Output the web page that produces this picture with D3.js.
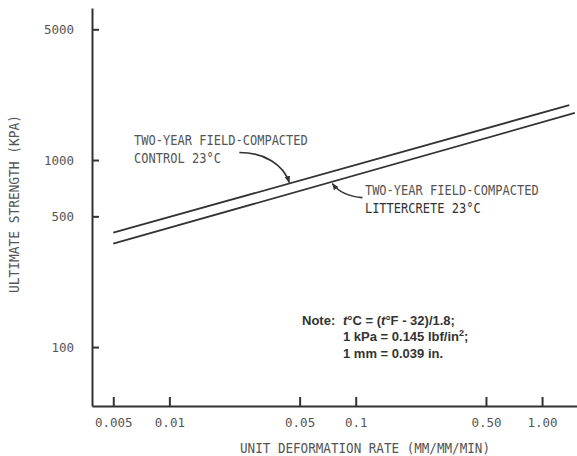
<!DOCTYPE html>
<html>
<head>
<meta charset="utf-8">
<script src="https://cdn.jsdelivr.net/npm/d3@7"></script>
<style>
  html, body { margin: 0; padding: 0; background: #fff; }
  #chart { width: 577px; height: 456px; }
  .mono { font-family: "DejaVu Sans Mono", monospace; fill: #555; }
  .note { font-family: "Liberation Sans", Arial, sans-serif; font-weight: bold; fill: #333; font-size: 13px; }
</style>
</head>
<body>
<div id="chart"></div>
<script>
// Ultimate strength vs unit deformation rate (log-log)
const xTicks = [0.005, 0.01, 0.05, 0.1, 0.5, 1];
const xTickLabels = ["0.005", "0.01", "0.05", "0.1", "0.50", "1.00"];
const yTicks = [100, 500, 1000, 5000];
const yTickLabels = ["100", "500", "1000", "5000"];

const controlRate = [0.005, 1.4];
const controlStrength = [409, 1965];
const littercreteRate = [0.005, 1.5];
const littercreteStrength = [357, 1785];

(() => {
    const W = 577, H = 456;
    const m = { left: 92, right: 0, top: 8, bottom: 50 };

    const svg = d3.select("#chart").append("svg").attr("width", W).attr("height", H);

    const x = d3.scaleLog().domain([0.003844, 1.54]).range([m.left, W - m.right]);
    const y = d3.scaleLog().domain([48.4, 6500]).range([H - m.bottom, m.top]);

    // axes
    const xAxis = d3.axisBottom(x).tickValues(xTicks)
        .tickFormat((d, i) => xTickLabels[i])
        .tickSizeInner(-9).tickSizeOuter(0).tickPadding(12);
    const yAxis = d3.axisLeft(y).tickValues(yTicks)
        .tickFormat((d, i) => yTickLabels[i])
        .tickSizeInner(-7).tickSizeOuter(0).tickPadding(18);

    const styleAxis = g => {
        g.select(".domain").attr("stroke", "#333").attr("stroke-width", 2);
        g.selectAll(".tick line").attr("stroke", "#333").attr("stroke-width", 2);
        g.selectAll(".tick text").attr("class", "mono").attr("font-size", 12.5).attr("fill", "#555");
    };

    svg.append("g").attr("transform", `translate(0,${H - m.bottom})`).call(xAxis).call(styleAxis);
    svg.append("g").attr("transform", `translate(${m.left},0)`).call(yAxis).call(styleAxis);

    // axis titles (tall, condensed typewriter look)
    svg.append("text").attr("class", "mono").attr("font-size", 14)
        .attr("transform", "translate(365,453) scale(0.9,1)").attr("text-anchor", "middle")
        .text("UNIT DEFORMATION RATE (MM/MM/MIN)");
    svg.append("text").attr("class", "mono").attr("font-size", 14)
        .attr("transform", "translate(19,204) rotate(-90) scale(0.92,1)").attr("text-anchor", "middle")
        .text("ULTIMATE STRENGTH (KPA)");

    // lines
    const series = [
        { name: "control", rate: controlRate, strength: controlStrength },
        { name: "littercrete", rate: littercreteRate, strength: littercreteStrength }
    ];
    const line = d3.line().x(d => x(d[0])).y(d => y(d[1]));
    svg.selectAll("path.series").data(series).join("path")
        .attr("class", "series")
        .attr("fill", "none").attr("stroke", "#333").attr("stroke-width", 1.8)
        .attr("d", s => line(d3.zip(s.rate, s.strength)));

    // interpolate a series in log space
    const at = (s, xv) => {
        const t = (Math.log(xv) - Math.log(s.rate[0])) / (Math.log(s.rate[1]) - Math.log(s.rate[0]));
        return Math.exp(Math.log(s.strength[0]) + t * (Math.log(s.strength[1]) - Math.log(s.strength[0])));
    };

    // arrowhead
    svg.append("defs").append("marker")
        .attr("id", "ah").attr("viewBox", "0 0 10 10").attr("refX", 9).attr("refY", 5)
        .attr("markerWidth", 7).attr("markerHeight", 7).attr("orient", "auto")
        .attr("markerUnits", "userSpaceOnUse")
        .append("path").attr("d", "M0,1L10,5L0,9Z").attr("fill", "#333");

    // labels
    const label = (px, py, lines, darkSecond) => {
        const t = svg.append("text").attr("class", "mono").attr("font-size", 14)
            .attr("transform", `translate(${px},${py}) scale(0.86,1)`);
        lines.forEach((l, i) => {
            t.append("tspan").attr("x", 0).attr("y", i * 18).text(l)
                .attr("fill", i === 1 && darkSecond ? "#333" : "#555");
        });
    };
    label(x(0.00646), 145, ["TWO-YEAR FIELD-COMPACTED", "CONTROL 23°C"], false);
    label(x(0.112), 195, ["TWO-YEAR FIELD-COMPACTED", "LITTERCRETE 23°C"], true);

    // control arrow: from label to upper line
    const cTipX = x(0.044), cTipY = y(at(series[0], 0.044)) - 1;
    svg.append("path").attr("fill", "none").attr("stroke", "#333").attr("stroke-width", 1.6)
        .attr("marker-end", "url(#ah)")
        .attr("d", `M${cTipX - 50},${cTipY - 30} C${cTipX - 25},${cTipY - 30} ${cTipX - 6},${cTipY - 18} ${cTipX},${cTipY}`);

    // littercrete arrow: from label to lower line
    const lTipX = x(0.075), lTipY = y(at(series[1], 0.075)) + 2;
    svg.append("path").attr("fill", "none").attr("stroke", "#333").attr("stroke-width", 1.6)
        .attr("marker-end", "url(#ah)")
        .attr("d", `M${lTipX + 30},${lTipY + 14} C${lTipX + 16},${lTipY + 13} ${lTipX + 6},${lTipY + 8} ${lTipX},${lTipY}`);

    // note
    const note = svg.append("g").attr("class", "note");
    note.append("text").attr("x", 302).attr("y", 325).text("Note:");
    const n1 = note.append("text").attr("x", 343).attr("y", 325);
    n1.append("tspan").attr("font-style", "italic").text("t");
    n1.append("tspan").text("°C = (");
    n1.append("tspan").attr("font-style", "italic").text("t");
    n1.append("tspan").text("°F - 32)/1.8;");
    const n2 = note.append("text").attr("x", 343).attr("y", 341);
    n2.append("tspan").text("1 kPa = 0.145 lbf/in");
    n2.append("tspan").attr("font-size", 9).attr("dy", -5).text("2");
    n2.append("tspan").attr("dy", 5).text(";");
    note.append("text").attr("x", 343).attr("y", 358).text("1 mm = 0.039 in.");
})();
</script>
</body>
</html>
